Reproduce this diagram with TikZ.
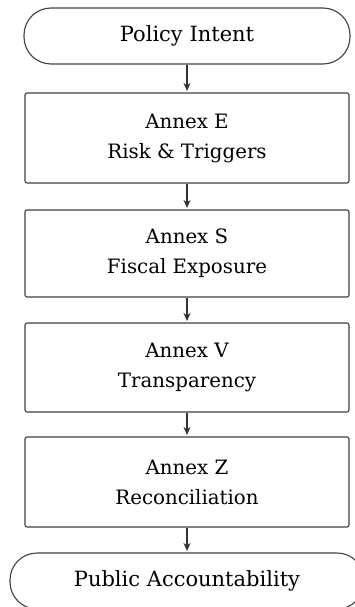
\documentclass[tikz,border=0pt]{standalone}
\usepackage{fontspec}
\setmainfont{DejaVu Serif}
\usepackage{tikz}
\usetikzlibrary{positioning, arrows.meta}

\begin{document}
\begin{tikzpicture}[x=1pt, y=-1pt,
    line/.style={draw=black!75, line width=1.1pt},
    terminal/.style={line, rounded corners=27pt, minimum height=56pt, inner sep=0pt,
        font=\fontsize{21}{24}\selectfont},
    annexbox/.style={line, rounded corners=2pt, minimum width=324pt, inner sep=0pt,
        align=center, font=\fontsize{19.8}{30}\selectfont},
    flow/.style={draw=black!80, line width=1.1pt, -{Stealth[length=8pt, width=7pt]}, shorten >=1.5pt}]
    \useasboundingbox (0,0) rectangle (355,607);

    % terminals and annex boxes
    \node[terminal, minimum width=326pt] (intent) at (187,36) {Policy Intent};
    \node[annexbox, minimum height=90pt] (annexE) at (187,138) {Annex E\\Risk \& Triggers};
    \node[annexbox, minimum height=87pt] (annexS) at (187,253.5) {Annex S\\Fiscal Exposure};
    \node[annexbox, minimum height=89pt] (annexV) at (187,367.5) {Annex V\\Transparency};
    \node[annexbox, minimum height=90pt] (annexZ) at (187,482) {Annex Z\\Reconciliation};
    \node[terminal, minimum width=354pt] (public) at (187,581) {Public Accountability};

    % connectors
    \draw[flow] (intent) -- (annexE);
    \draw[flow] (annexE) -- (annexS);
    \draw[flow] (annexS) -- (annexV);
    \draw[flow] (annexV) -- (annexZ);
    \draw[flow] (annexZ) -- (public);
\end{tikzpicture}
\end{document}
